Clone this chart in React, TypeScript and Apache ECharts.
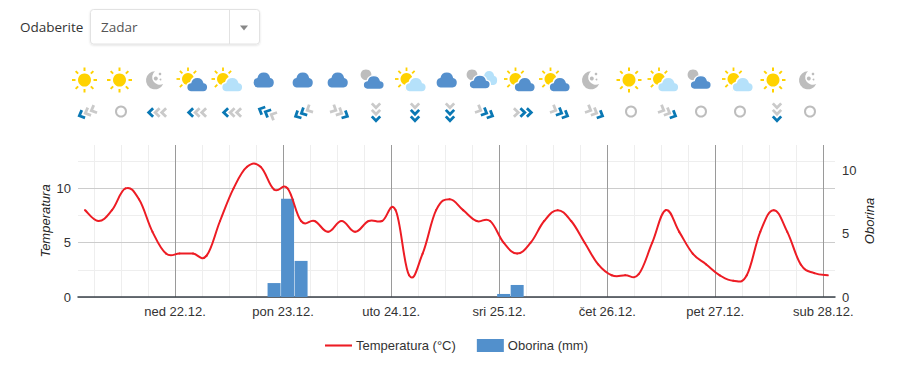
import React, { useEffect, useRef } from "react";
import * as echarts from "echarts";

// ---- data ----
const hours = Array.from({ length: 56 }, (_, k) => 4 + 3 * k); // hours since 21.12. 00:00
const temperature = [
  8, 7, 8, 10, 9, 6, 4, 4, 4, 3.8, 7, 10, 12, 12, 9.9, 10, 7, 7, 6, 7, 6, 7, 7, 8, 2, 4, 8, 9,
  8, 7, 7, 5, 4, 5, 7, 8, 7, 5, 3, 2, 2, 2.1, 5, 8, 6, 4, 3, 2, 1.5, 2, 6, 8, 6, 3, 2.2, 2,
];
const precipitationByHour: Record<number, number> = { 46: 1.1, 49: 7.75, 52: 2.85, 97: 0.24, 100: 0.95 };
const dayHours = [24, 48, 72, 96, 120, 144, 168];
const dayLabels = ["ned 22.12.", "pon 23.12.", "uto 24.12.", "sri 25.12.", "čet 26.12.", "pet 27.12.", "sub 28.12."];
const sixHours = Array.from({ length: 28 }, (_, k) => 6 + 6 * k);
const weatherIcons = [
  "sun", "sun", "moon", "sunDark", "sunLight", "cloud", "cloud", "cloud", "grayCloud", "sunLight", "cloud",
  "grayLight", "sunDark", "sunDark", "moon", "sun", "sunLight", "grayCloud", "sunLight", "sun", "moon",
];
const windAngles: (number | null)[] = [157, null, 180, 180, 180, 205, 153, 27, 90, 90, 90, 25, 0, 25, 25, null, 25, null, null, 90, null];
const windBlue = [1, 0, 1, 1, 1, 2, 2, 1, 1, 2, 2, 2, 2, 2, 1, 0, 1, 0, 0, 1, 0];

// ---- icon layout ----
const iconCentres = [84.5, 119.5, 154, 197, 232, 263.5, 302.5, 337.5, 373.5, 415.5, 446.5, 479.5, 524.5, 559.5, 590, 629, 668, 700.5, 742.5, 773, 807];
const windCentres = [87, 121, 157, 197, 232, 267, 303, 340, 376, 415, 450, 485, 523, 560, 595, 631, 668, 701, 740, 777, 810];

const DARK = "#5590cd";
const LIGHT = "#b5e1fa";
const GREY = "#bdbdbd";
const YELLOW = "#ffd200";
const RED = "#ed1c24";

echarts.graphic.registerShape(
  "wxCloud",
  echarts.graphic.extendPath("M4.5 14 H16.5 A4.5 4.5 0 0 0 17.2 5.1 A6.6 6.6 0 0 0 4.4 5.1 A4.5 4.5 0 0 0 4.5 14 Z", {})
);
echarts.graphic.registerShape(
  "wxMoon",
  echarts.graphic.extendPath("M10 0.3 A9 9 0 1 0 18.2 13 A7.6 7.6 0 0 1 10 0.3 Z", {})
);

function sun(cx: number, cy: number, r: number, r1: number, r2: number, w: number) {
  const out: any[] = [{ type: "circle", shape: { cx, cy, r }, style: { fill: YELLOW } }];
  for (let i = 0; i < 8; i++) {
    const a = (i * Math.PI) / 4;
    out.push({
      type: "line",
      shape: { x1: cx + r1 * Math.cos(a), y1: cy + r1 * Math.sin(a), x2: cx + r2 * Math.cos(a), y2: cy + r2 * Math.sin(a) },
      style: { stroke: YELLOW, lineWidth: w },
    });
  }
  return out;
}
function cloud(x: number, y: number, fill: string, sx = 1, sy = 1, halo = true) {
  return {
    type: "wxCloud",
    x,
    y,
    scaleX: sx,
    scaleY: sy,
    style: { fill, stroke: halo ? "#fff" : undefined, lineWidth: halo ? 1.4 : 0 },
  };
}
function weatherIcon(kind: string, c: number): any[] {
  const y = 80;
  switch (kind) {
    case "sun":
      return sun(c, y, 6.5, 9, 12.5, 2);
    case "moon":
      return [
        { type: "wxMoon", x: c - 9, y: y - 9, style: { fill: GREY } },
        { type: "circle", shape: { cx: c + 1.8, cy: y - 1.5, r: 2 }, style: { fill: GREY } },
        { type: "circle", shape: { cx: c + 6, cy: y - 6, r: 1.3 }, style: { fill: GREY } },
        { type: "circle", shape: { cx: c + 6.5, cy: y - 0.5, r: 0.9 }, style: { fill: GREY } },
      ];
    case "cloud":
      return [cloud(c - 10.5, 72.5, DARK, 1, 1.07, false)];
    case "sunDark":
      return [...sun(c - 9, y - 1, 6, 8, 11.5, 1.8), cloud(c - 11, 77, DARK, 1.05, 1.08)];
    case "sunLight":
      return [...sun(c - 9, y - 1, 6, 8, 11.5, 1.8), cloud(c - 11, 77, LIGHT, 1.05, 1.08)];
    case "grayCloud":
      return [
        { type: "circle", shape: { cx: c - 7.5, cy: 74.8, r: 5.4 }, style: { fill: GREY } },
        cloud(c - 11, 75.5, DARK, 1.05, 1),
      ];
    case "grayLight":
      return [
        { type: "circle", shape: { cx: c - 7.5, cy: 74.8, r: 5.4 }, style: { fill: GREY } },
        cloud(c + 1, 71, LIGHT, 0.8, 1, false),
        cloud(c - 11, 75, DARK, 1.05, 1),
      ];
  }
  return [];
}
function windIcon(angle: number | null, blue: number, c: number): any {
  if (angle === null) {
    return { type: "circle", shape: { cx: c, cy: 111.5, r: 5 }, style: { fill: "none", stroke: GREY, lineWidth: 2 } };
  }
  const children: any[] = [];
  for (let i = 0; i < 3; i++) {
    const off = 6.5 - i * 6.5;
    children.push({
      type: "polyline",
      shape: { points: [[off - 2.6, -4.2], [off + 1.8, 0], [off - 2.6, 4.2]] },
      style: { fill: "none", stroke: i < blue ? "#0a78b4" : "#cacaca", lineWidth: 2.8 },
    });
  }
  return { type: "group", x: c, y: 112.5, rotation: (-angle * Math.PI) / 180, children };
}

const selectorGraphics: any[] = [
  { type: "text", x: 20, y: 27, style: { text: "Odaberite", fontFamily: "Open Sans", fontSize: 13.5, fill: "#333", verticalAlign: "middle" } },
  {
    type: "rect",
    shape: { x: 90.5, y: 9.5, width: 169, height: 34.5, r: 3 },
    style: { fill: "#fff", stroke: "#e2e2e2", lineWidth: 1, shadowBlur: 2, shadowColor: "rgba(0,0,0,0.12)", shadowOffsetY: 1 },
  },
  { type: "line", shape: { x1: 229.5, y1: 10, x2: 229.5, y2: 44 }, style: { stroke: "#e2e2e2", lineWidth: 1 } },
  { type: "polygon", shape: { points: [[240, 25.5], [248, 25.5], [244, 30.5]] }, style: { fill: "#888" } },
  { type: "text", x: 101, y: 26.5, style: { text: "Zadar", fontFamily: "Open Sans", fontSize: 13.5, fill: "#555", verticalAlign: "middle" } },
];

const AXIS_TEXT = "#333";
const FONT = "Liberation Sans";

// One spline segment per data item, with the tangents of a cardinal spline, placed through the axis scale.
function renderSegment(params: any, api: any) {
  const i = params.dataIndex;
  if (i >= hours.length - 1) return null;
  const pt = (j: number) => {
    const k = Math.max(0, Math.min(hours.length - 1, j));
    return api.coord([hours[k], temperature[k]]);
  };
  const p0 = pt(i - 1);
  const p1 = pt(i);
  const p2 = pt(i + 1);
  const p3 = pt(i + 2);
  const t = 0.2;
  return {
    type: "bezierCurve",
    shape: {
      x1: p1[0],
      y1: p1[1],
      cpx1: p1[0] + (p2[0] - p0[0]) * t,
      cpy1: p1[1] + (p2[1] - p0[1]) * t,
      cpx2: p2[0] - (p3[0] - p1[0]) * t,
      cpy2: p2[1] - (p3[1] - p1[1]) * t,
      x2: p2[0],
      y2: p2[1],
    },
    style: { fill: "none", stroke: RED, lineWidth: 2, lineCap: "round" },
  };
}

export default function App() {
  const ref = useRef<HTMLDivElement>(null);
  useEffect(() => {
    if (!ref.current) return;
    const chart = echarts.init(ref.current, undefined, { renderer: "svg" });
    const graphics = [
      ...selectorGraphics,
      ...weatherIcons.flatMap((k, i) => weatherIcon(k, iconCentres[i])),
      ...windAngles.map((a, i) => windIcon(a, windBlue[i], windCentres[i])),
    ];
    chart.setOption({
      animation: false,
      backgroundColor: "#fff",
      textStyle: { fontFamily: FONT },
      grid: { left: 78, right: 71, top: 145, bottom: 81, containLabel: false },
      graphic: { elements: graphics },
      legend: {
        left: 320,
        top: 334,
        itemWidth: 27,
        itemHeight: 13,
        itemGap: 21,
        textStyle: { color: "#333", fontSize: 13, fontFamily: FONT, padding: [0, 0, 0, -1] },
        data: [
          { name: "Temperatura (°C)", icon: "path://M0 6 H26 V8 H0 Z", itemStyle: { color: RED } },
          { name: "Oborina (mm)", icon: "rect", itemStyle: { color: "#5290cc" } },
        ],
      },
      xAxis: [
        {
          type: "value",
          min: 2.45,
          max: 170.6,
          axisLine: { show: true, onZero: false, lineStyle: { color: "#3a4149", width: 1.5 } },
          axisTick: { show: false, customValues: dayHours },
          axisLabel: {
            show: true,
            customValues: dayHours,
            margin: 8,
            color: AXIS_TEXT,
            fontSize: 13,
            showMinLabel: true,
            showMaxLabel: true,
            formatter: (v: number) => dayLabels[dayHours.indexOf(v)] ?? "",
          },
          splitLine: { show: true, lineStyle: { color: "#9a9a9a", width: 1 } },
          z: 3,
        },
        {
          type: "value",
          min: 2.45,
          max: 170.6,
          position: "bottom",
          axisLine: { show: false },
          axisTick: { show: false, customValues: sixHours },
          axisLabel: { show: false },
          splitLine: { show: true, lineStyle: { color: "#eeeeee", width: 1 } },
          z: 1,
        },
      ],
      yAxis: [
        {
          type: "value",
          min: 0,
          max: 14,
          interval: 5,
          position: "left",
          name: "Temperatura",
          nameLocation: "middle",
          nameRotate: 90,
          nameGap: 26,
          nameMoveOverlap: false,
          nameTextStyle: { color: "#222", fontStyle: "italic", fontSize: 13, fontFamily: FONT },
          axisLine: { show: false },
          axisTick: { show: false },
          axisLabel: { color: AXIS_TEXT, fontSize: 13, margin: 7, showMaxLabel: false },
          splitLine: { show: true, showMaxLine: false, lineStyle: { color: "#cccccc", width: 1 } },
          z: 2,
        },
        {
          type: "value",
          min: 0,
          max: 12,
          interval: 5,
          position: "right",
          name: "Oborina",
          nameLocation: "middle",
          nameRotate: 90,
          nameGap: 28,
          nameMoveOverlap: false,
          nameTextStyle: { color: "#222", fontStyle: "italic", fontSize: 13, fontFamily: FONT },
          axisLine: { show: false },
          axisTick: { show: false },
          axisLabel: { color: AXIS_TEXT, fontSize: 13, margin: 7, showMaxLabel: false },
          splitLine: { show: false },
        },
        {
          type: "value",
          min: 0,
          max: 14,
          interval: 2.5,
          position: "left",
          axisLine: { show: false },
          axisTick: { show: false },
          axisLabel: { show: false },
          splitLine: { show: true, showMaxLine: false, lineStyle: { color: "#eeeeee", width: 1 } },
          z: 1,
        },
      ],
      series: [
        {
          name: "Oborina (mm)",
          type: "bar",
          xAxisIndex: 0,
          yAxisIndex: 1,
          barWidth: 13,
          itemStyle: { color: "#5290cc" },
          data: hours.map((h) => [h, precipitationByHour[h] ?? 0]),
          z: 4,
        },
        {
          name: "Temperatura (°C)",
          type: "custom",
          xAxisIndex: 0,
          yAxisIndex: 0,
          coordinateSystem: "cartesian2d",
          renderItem: renderSegment,
          encode: { x: 0, y: 1 },
          itemStyle: { color: RED },
          data: hours.map((h, i) => [h, temperature[i]]),
          z: 5,
        },
      ],
    });
    return () => chart.dispose();
  }, []);
  return <div ref={ref} style={{ position: "absolute", left: 0, top: 0, width: 906, height: 378 }} />;
}
